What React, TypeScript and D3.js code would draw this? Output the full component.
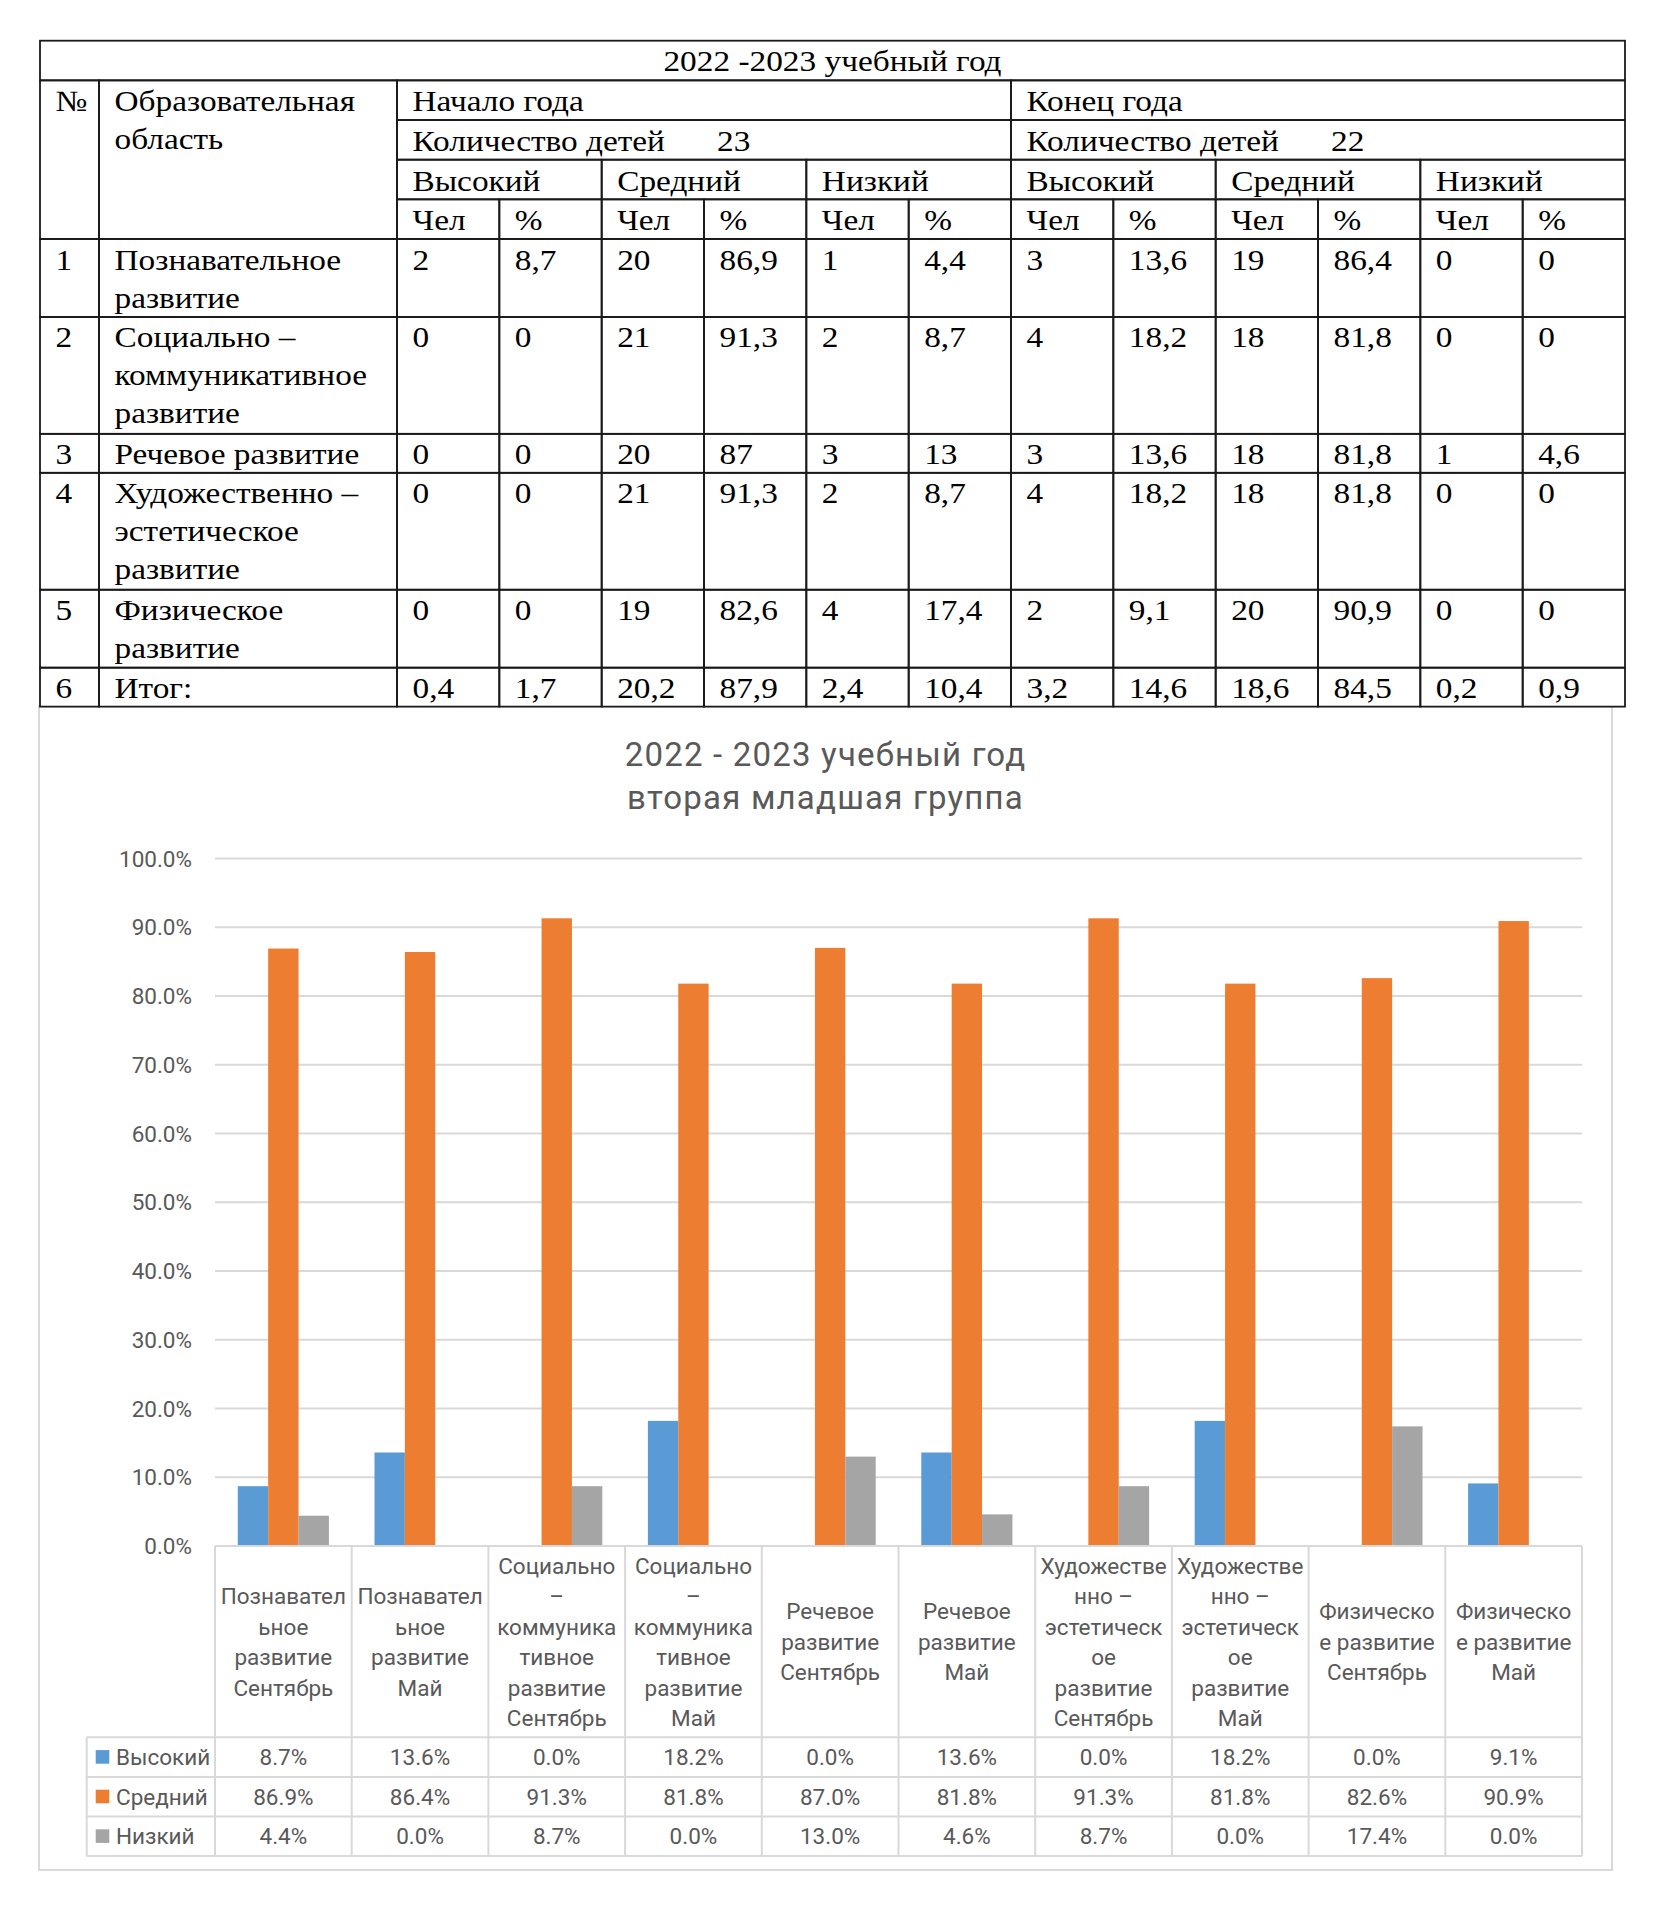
import React from "react";
import * as d3 from "d3";

// ---------- Table data ----------
const tableTitle = "2022 -2023 учебный год";
const periodNames = ["Начало года", "Конец года"];
const childrenLabel = "Количество детей";
const childrenCounts = ["23", "22"];
const levelNames = ["Высокий", "Средний", "Низкий"];
const subHeaders = ["Чел", "%"];
const rowNumbers = ["1", "2", "3", "4", "5", "6"];
const areaLines = [
  ["Познавательное", "развитие"],
  ["Социально –", "коммуникативное", "развитие"],
  ["Речевое развитие"],
  ["Художественно –", "эстетическое", "развитие"],
  ["Физическое", "развитие"],
  ["Итог:"],
];
const tableValues = [
  ["2", "8,7", "20", "86,9", "1", "4,4", "3", "13,6", "19", "86,4", "0", "0"],
  ["0", "0", "21", "91,3", "2", "8,7", "4", "18,2", "18", "81,8", "0", "0"],
  ["0", "0", "20", "87", "3", "13", "3", "13,6", "18", "81,8", "1", "4,6"],
  ["0", "0", "21", "91,3", "2", "8,7", "4", "18,2", "18", "81,8", "0", "0"],
  ["0", "0", "19", "82,6", "4", "17,4", "2", "9,1", "20", "90,9", "0", "0"],
  ["0,4", "1,7", "20,2", "87,9", "2,4", "10,4", "3,2", "14,6", "18,6", "84,5", "0,2", "0,9"],
];

// ---------- Chart data ----------
const chartTitleLines = ["2022 - 2023 учебный год", "вторая младшая группа"];
const categories = [
  "Познавательное развитие Сентябрь",
  "Познавательное развитие Май",
  "Социально – коммуникативное развитие Сентябрь",
  "Социально – коммуникативное развитие Май",
  "Речевое развитие Сентябрь",
  "Речевое развитие Май",
  "Художественно – эстетическое развитие Сентябрь",
  "Художественно – эстетическое развитие Май",
  "Физическое развитие Сентябрь",
  "Физическое развитие Май",
];
const categoryLabelLines = [
  ["Познавател", "ьное", "развитие", "Сентябрь"],
  ["Познавател", "ьное", "развитие", "Май"],
  ["Социально", "–", "коммуника", "тивное", "развитие", "Сентябрь"],
  ["Социально", "–", "коммуника", "тивное", "развитие", "Май"],
  ["Речевое", "развитие", "Сентябрь"],
  ["Речевое", "развитие", "Май"],
  ["Художестве", "нно –", "эстетическ", "ое", "развитие", "Сентябрь"],
  ["Художестве", "нно –", "эстетическ", "ое", "развитие", "Май"],
  ["Физическо", "е развитие", "Сентябрь"],
  ["Физическо", "е развитие", "Май"],
];
const seriesNames = ["Высокий", "Средний", "Низкий"];
const highValues = [8.7, 13.6, 0.0, 18.2, 0.0, 13.6, 0.0, 18.2, 0.0, 9.1];
const midValues = [86.9, 86.4, 91.3, 81.8, 87.0, 81.8, 91.3, 81.8, 82.6, 90.9];
const lowValues = [4.4, 0.0, 8.7, 0.0, 13.0, 4.6, 8.7, 0.0, 17.4, 0.0];
const seriesColors = ["#5B9BD5", "#ED7D31", "#A5A5A5"];

// ---------- Layout ----------
const W = 1654;
const H = 1914;
const SERIF = "'Liberation Serif', 'Times New Roman', serif";
const SANS = "Roboto, 'Noto Sans', sans-serif";
const TFS = 29.5; // table font size
const TSX = 1.13; // horizontal stretch of table text
const tableLeft = 40;
const tableRight = 1625;
const numColW = 59;
const areaColW = 298;
const headerTop = 40.7;
const headerRowH = 39.66;
const lineH = 38.97;

function ST({ x, y, children, anchor = "start" }: any) {
  return (
    <text
      transform={`translate(${x},${y}) scale(${TSX},1)`}
      textAnchor={anchor}
      fontFamily={SERIF}
      fontSize={TFS}
      fill="#000"
    >
      {children}
    </text>
  );
}

function Table() {
  const valStart = tableLeft + numColW + areaColW;
  const valW = (tableRight - valStart) / 12;
  const colX = [tableLeft, tableLeft + numColW, valStart];
  for (let i = 1; i <= 12; i++) colX.push(valStart + valW * i);
  const rowY = [headerTop];
  for (let i = 1; i <= 5; i++) rowY.push(headerTop + headerRowH * i);
  areaLines.forEach((ls) => rowY.push(rowY[rowY.length - 1] + ls.length * lineH));

  const cells: { c0: number; c1: number; r0: number; r1: number }[] = [];
  cells.push({ c0: 0, c1: 14, r0: 0, r1: 1 });
  cells.push({ c0: 0, c1: 1, r0: 1, r1: 5 });
  cells.push({ c0: 1, c1: 2, r0: 1, r1: 5 });
  [0, 1].forEach((p) => {
    const b = 2 + p * 6;
    cells.push({ c0: b, c1: b + 6, r0: 1, r1: 2 });
    cells.push({ c0: b, c1: b + 6, r0: 2, r1: 3 });
    [0, 1, 2].forEach((l) => cells.push({ c0: b + l * 2, c1: b + l * 2 + 2, r0: 3, r1: 4 }));
  });
  for (let c = 2; c < 14; c++) cells.push({ c0: c, c1: c + 1, r0: 4, r1: 5 });
  for (let r = 0; r < 6; r++)
    for (let c = 0; c < 14; c++) cells.push({ c0: c, c1: c + 1, r0: 5 + r, r1: 6 + r });

  const pad = 15.5;
  const base = 31;
  return (
    <g>
      <rect x={tableLeft} y={rowY[0]} width={tableRight - tableLeft} height={rowY[rowY.length - 1] - rowY[0]} fill="#fff" />
      {cells.map((c, i) => (
        <rect
          key={i}
          x={colX[c.c0]}
          y={rowY[c.r0]}
          width={colX[c.c1] - colX[c.c0]}
          height={rowY[c.r1] - rowY[c.r0]}
          fill="none"
          stroke="#1a1a1a"
          strokeWidth={1.8}
        />
      ))}
      <ST x={(tableLeft + tableRight) / 2} y={rowY[0] + 30.3} anchor="middle">
        {tableTitle}
      </ST>
      <ST x={colX[0] + pad} y={rowY[1] + base}>№</ST>
      <ST x={colX[1] + pad} y={rowY[1] + base}>Образовательная</ST>
      <ST x={colX[1] + pad} y={rowY[1] + base + 38}>область</ST>
      {[0, 1].map((p) => {
        const b = 2 + p * 6;
        return (
          <g key={p}>
            <ST x={colX[b] + pad} y={rowY[1] + base}>{periodNames[p]}</ST>
            <ST x={colX[b] + pad} y={rowY[2] + base}>{childrenLabel}</ST>
            <ST x={colX[b] + 320} y={rowY[2] + base}>{childrenCounts[p]}</ST>
            {levelNames.map((l, li) => (
              <ST key={l} x={colX[b + li * 2] + pad} y={rowY[3] + base}>{l}</ST>
            ))}
            {[0, 1, 2, 3, 4, 5].map((k) => (
              <ST key={k} x={colX[b + k] + pad} y={rowY[4] + base}>{subHeaders[k % 2]}</ST>
            ))}
          </g>
        );
      })}
      {tableValues.map((vals, r) => (
        <g key={r}>
          <ST x={colX[0] + pad} y={rowY[5 + r] + 30.5}>{rowNumbers[r]}</ST>
          {areaLines[r].map((ln, li) => (
            <ST key={li} x={colX[1] + pad} y={rowY[5 + r] + 30.5 + li * 38}>{ln}</ST>
          ))}
          {vals.map((v, c) => (
            <ST key={c} x={colX[2 + c] + pad} y={rowY[5 + r] + 30.5}>{v}</ST>
          ))}
        </g>
      ))}
    </g>
  );
}

function Chart() {
  const plotLeft = 215;
  const plotRight = 1582;
  const yZero = 1546;
  const yTop = 858.5;
  const catRowBottom = 1737.3;
  const legendRowH = 39.6;
  const legendLeft = 86.7;
  const textColor = "#595959";
  const gridColor = "#D9D9D9";

  const x = d3.scaleBand<string>().domain(categories).range([plotLeft, plotRight]);
  const bw = x.bandwidth();
  const barW = bw / 4.5;
  const xs = d3.scaleBand<string>().domain(seriesNames).range([barW * 0.75, barW * 3.75]);
  const y = d3.scaleLinear().domain([0, 1]).range([yZero, yTop]);
  const ticks = d3.range(0, 11).map((i) => i / 10);
  const fmt = d3.format(".1%");
  const seriesValues = [highValues, midValues, lowValues];
  const tableBottom = catRowBottom + legendRowH * 3;

  return (
    <g>
      <rect x={39} y={706} width={1573} height={1164} fill="#fff" stroke={gridColor} strokeWidth={2} />
      {chartTitleLines.map((t, i) => (
        <text
          key={i}
          x={825.5}
          y={766 + i * 42.5}
          textAnchor="middle"
          fontFamily={SANS}
          fontSize={33}
          letterSpacing={1.2}
          fill={textColor}
        >
          {t}
        </text>
      ))}
      {ticks.map((t) => (
        <g key={t}>
          <line x1={plotLeft} x2={plotRight} y1={y(t)} y2={y(t)} stroke={gridColor} strokeWidth={2} />
          <text x={192} y={y(t)} dy="0.36em" textAnchor="end" fontFamily={SANS} fontSize={22.5} fill={textColor}>
            {fmt(t)}
          </text>
        </g>
      ))}
      {seriesValues.map((vals, s) =>
        vals.map((v, i) => (
          <rect
            key={`${s}-${i}`}
            x={(x(categories[i]) as number) + (xs(seriesNames[s]) as number)}
            y={y(v / 100)}
            width={xs.bandwidth()}
            height={yZero - y(v / 100)}
            fill={seriesColors[s]}
          />
        ))
      )}
      {/* data table grid */}
      {categories.map((c) => (
        <line key={c} x1={x(c)} x2={x(c)} y1={yZero} y2={tableBottom} stroke={gridColor} strokeWidth={2} />
      ))}
      <line x1={plotRight} x2={plotRight} y1={yZero} y2={tableBottom} stroke={gridColor} strokeWidth={2} />
      <line x1={legendLeft} x2={legendLeft} y1={catRowBottom} y2={tableBottom} stroke={gridColor} strokeWidth={2} />
      {[0, 1, 2, 3].map((k) => (
        <line
          key={k}
          x1={legendLeft}
          x2={plotRight}
          y1={catRowBottom + k * legendRowH}
          y2={catRowBottom + k * legendRowH}
          stroke={gridColor}
          strokeWidth={2}
        />
      ))}
      <line x1={plotLeft} x2={plotRight} y1={yZero} y2={yZero} stroke={gridColor} strokeWidth={2} />
      {categoryLabelLines.map((lines, i) => {
        const cx = (x(categories[i]) as number) + bw / 2;
        const cy = (yZero + catRowBottom) / 2;
        return (
          <g key={i}>
            {lines.map((ln, k) => (
              <text
                key={k}
                x={cx}
                y={cy + (k - (lines.length - 1) / 2) * 30.5}
                dy="0.36em"
                textAnchor="middle"
                fontFamily={SANS}
                fontSize={22.5}
                fill={textColor}
              >
                {ln}
              </text>
            ))}
          </g>
        );
      })}
      {seriesNames.map((s, si) => {
        const cy = catRowBottom + legendRowH * (si + 0.5);
        return (
          <g key={s}>
            <rect x={95.7} y={cy - 7} width={13.6} height={13.6} fill={seriesColors[si]} />
            <text x={116} y={cy} dy="0.36em" fontFamily={SANS} fontSize={22.5} fill={textColor}>
              {s}
            </text>
            {seriesValues[si].map((v, i) => (
              <text
                key={i}
                x={(x(categories[i]) as number) + bw / 2}
                y={cy}
                dy="0.36em"
                textAnchor="middle"
                fontFamily={SANS}
                fontSize={22.5}
                fill={textColor}
              >
                {fmt(v / 100)}
              </text>
            ))}
          </g>
        );
      })}
    </g>
  );
}

export default function App() {
  return (
    <svg
      width={W}
      height={H}
      viewBox={`0 0 ${W} ${H}`}
      style={{ position: "absolute", left: 0, top: 0, background: "#fff" }}
    >
      <rect x={0} y={0} width={W} height={H} fill="#fff" />
      <Chart />
      <Table />
    </svg>
  );
}
